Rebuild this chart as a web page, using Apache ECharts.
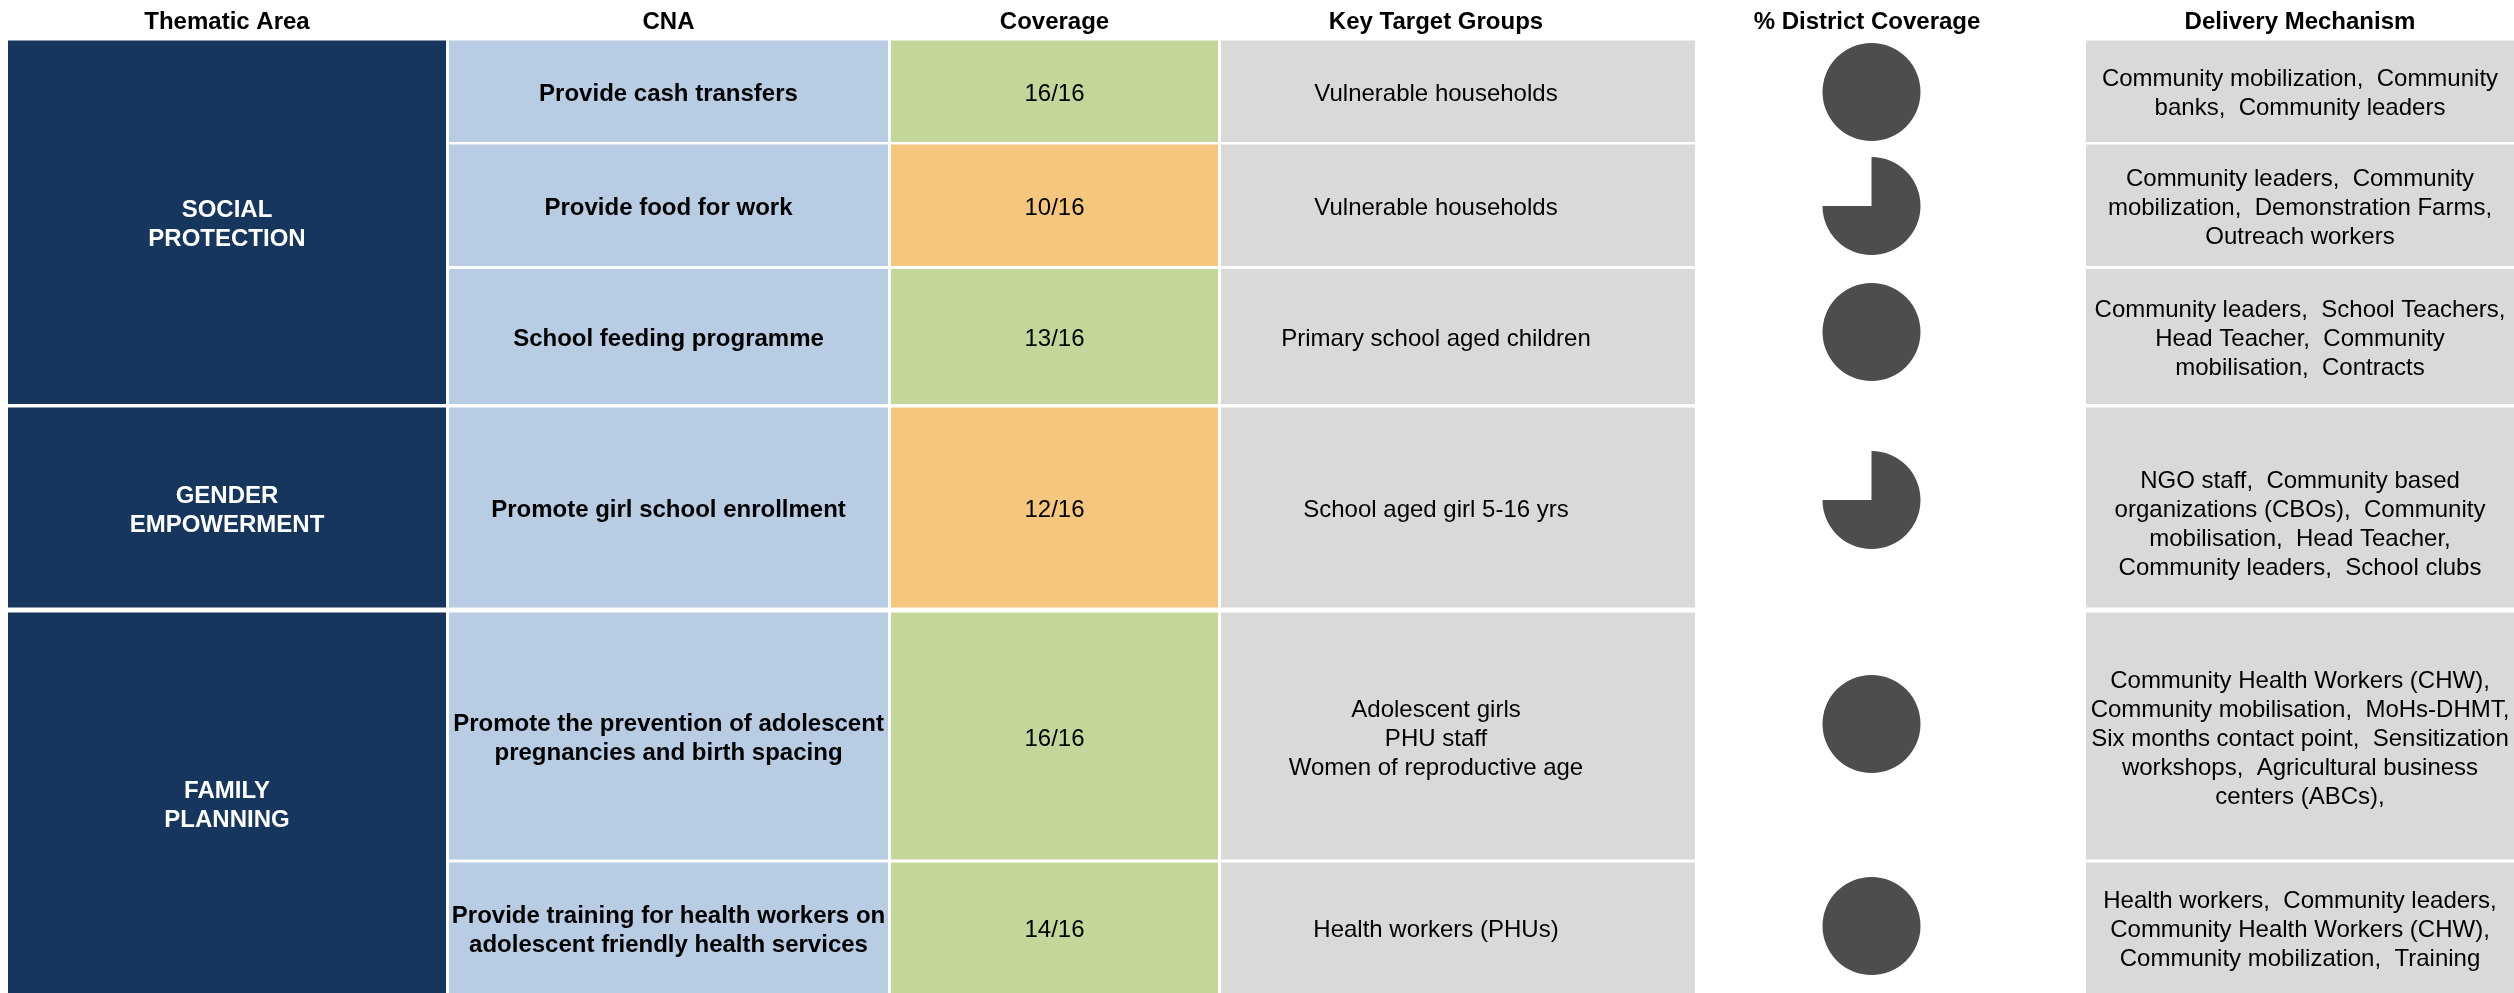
<!DOCTYPE html>
<html><head><meta charset="utf-8">
<script src="https://cdn.jsdelivr.net/npm/echarts@6.0.0/dist/echarts.min.js"></script>
<style>html,body{margin:0;padding:0;background:#fff}#c{width:2514px;height:993px}</style>
</head><body><div id="c"></div>
<script>
// ---------- DATA ----------
const headers = ['Thematic Area', 'CNA', 'Coverage', 'Key Target Groups', '% District Coverage', 'Delivery Mechanism'];
const thematicAreas = ['SOCIAL\nPROTECTION', 'GENDER\nEMPOWERMENT', 'FAMILY\nPLANNING'];
const thematicRows = [[0, 2], [3, 3], [4, 5]];
const cnaItems = [
  'Provide cash transfers',
  'Provide food for work',
  'School feeding programme',
  'Promote girl school enrollment',
  'Promote the prevention of adolescent\npregnancies and birth spacing',
  'Provide training for health workers on\nadolescent friendly health services'
];
const coverageCovered = [16, 10, 13, 12, 16, 14];
const coverageTotal = [16, 16, 16, 16, 16, 16];
const targetGroups = [
  'Vulnerable households',
  'Vulnerable households',
  'Primary school aged children',
  'School aged girl 5-16 yrs',
  'Adolescent girls\nPHU staff\nWomen of reproductive age',
  'Health workers (PHUs)'
];
const districtShare = [100, 75, 100, 75, 100, 100];
const deliveryMechanisms = [
  'Community mobilization,  Community\nbanks,  Community leaders',
  'Community leaders,  Community\nmobilization,  Demonstration Farms,\nOutreach workers',
  'Community leaders,  School Teachers,\nHead Teacher,  Community\nmobilisation,  Contracts',
  '\nNGO staff,  Community based\norganizations (CBOs),  Community\nmobilisation,  Head Teacher,\nCommunity leaders,  School clubs',
  'Community Health Workers (CHW),\nCommunity mobilisation,  MoHs-DHMT,\nSix months contact point,  Sensitization\nworkshops,  Agricultural business\ncenters (ABCs),',
  'Health workers,  Community leaders,\nCommunity Health Workers (CHW),\nCommunity mobilization,  Training'
];

// ---------- LAYOUT & STYLE ----------
const W = 2514, H = 993;
const FONT = "'Liberation Sans', Arial, sans-serif";
const COL = {
  thematic: [8, 446], cna: [449, 888], coverage: [891, 1218],
  target: [1221, 1695], delivery: [2086, 2514]
};
const TEXT_X = { thematic: 227, cna: 668.5, coverage: 1054.5, target: 1436, delivery: 2300 };
const TEXT_DY = 3;
const HEADER_X = [227, 668.5, 1054.5, 1436, 1867, 2300];
const HEADER_Y = 22;
const ROWS = [[40.5, 142], [144.5, 266], [269, 404], [407.5, 607.5], [612.5, 859.5], [862.5, 993]];
const PIE_X = 1871.5, PIE_Y = [92, 206, 332, 500, 724, 926], PIE_R = 49;
const C = {
  thematic: '#17365D', cna: '#B8CCE4', good: '#C4D79B', mid: '#F5C77E',
  target: '#D9D9D9', delivery: '#D9D9D9', pie: '#4D4D4D'
};

// ---------- BUILD CELLS ----------
const cells = [];
headers.forEach((h, i) => cells.push({ tx: HEADER_X[i], ty: HEADER_Y, text: h, font: 'bold 24px ' + FONT, color: '#000' }));
thematicAreas.forEach((t, g) => {
  const y0 = ROWS[thematicRows[g][0]][0], y1 = ROWS[thematicRows[g][1]][1];
  cells.push({ x0: COL.thematic[0], x1: COL.thematic[1], y0, y1, fill: C.thematic,
    tx: TEXT_X.thematic, ty: (y0 + y1) / 2 + TEXT_DY, text: t, font: 'bold 24px ' + FONT, color: '#fff' });
});
ROWS.forEach((r, i) => {
  const cy = (r[0] + r[1]) / 2 + TEXT_DY;
  const add = (key, fill, text, bold) => cells.push({ x0: COL[key][0], x1: COL[key][1], y0: r[0], y1: r[1], fill,
    tx: TEXT_X[key], ty: cy, text, font: (bold ? 'bold ' : '') + '24px ' + FONT, color: '#000' });
  add('cna', C.cna, cnaItems[i], true);
  add('coverage', coverageCovered[i] >= 13 ? C.good : C.mid, coverageCovered[i] + '/' + coverageTotal[i], false);
  add('target', C.target, targetGroups[i], false);
  add('delivery', C.delivery, deliveryMechanisms[i], false);
});

const pieSeries = districtShare.map((s, i) => ({
  type: 'pie', silent: true, animation: false,
  center: [PIE_X, PIE_Y[i]], radius: PIE_R, startAngle: 90, clockwise: true,
  label: { show: false }, labelLine: { show: false },
  itemStyle: { borderWidth: 0 },
  data: [
    { value: s, itemStyle: { color: C.pie } },
    { value: 100 - s, itemStyle: { color: 'rgba(0,0,0,0)' } }
  ]
}));

const chart = echarts.init(document.getElementById('c'), null, { renderer: 'canvas' });
chart.setOption({
  backgroundColor: '#fff',
  animation: false,
  grid: { left: 0, right: 0, top: 0, bottom: 0 },
  xAxis: { type: 'value', min: 0, max: W, show: false },
  yAxis: { type: 'value', min: 0, max: H, inverse: true, show: false },
  series: [{
    type: 'custom', silent: true, clip: false,
    data: cells.map((c, k) => [k, 0]),
    renderItem: function (params, api) {
      const c = cells[api.value(0)];
      const children = [];
      if (c.fill) {
        const p0 = api.coord([c.x0, c.y0]), p1 = api.coord([c.x1, c.y1]);
        children.push({ type: 'rect', shape: { x: p0[0], y: p0[1], width: p1[0] - p0[0], height: p1[1] - p0[1] }, style: { fill: c.fill } });
      }
      const t = api.coord([c.tx, c.ty]);
      children.push({ type: 'text', style: { text: c.text, x: t[0], y: t[1], align: 'center', verticalAlign: 'middle', font: c.font, fill: c.color, lineHeight: 29 } });
      return { type: 'group', children };
    }
  }].concat(pieSeries)
});
</script></body></html>
